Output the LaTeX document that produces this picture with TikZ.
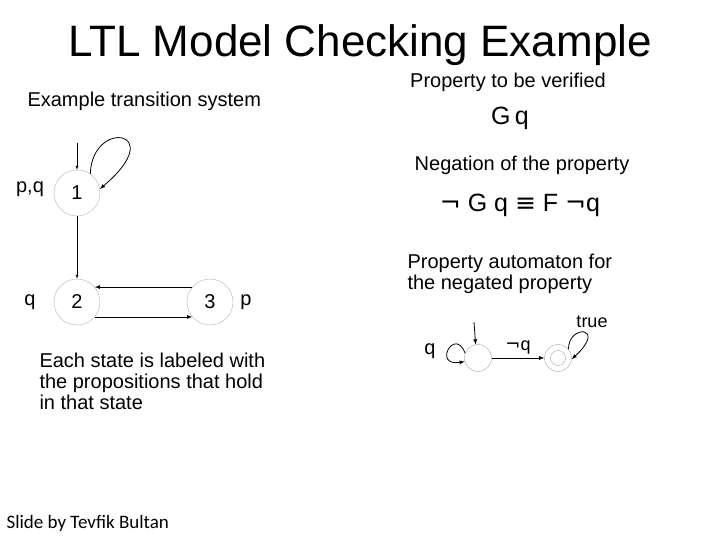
\documentclass[tikz,border=0pt]{standalone}
\usepackage{fontspec}
\setmainfont{Liberation Sans}
\newfontfamily\djv{DejaVu Sans}
\newfontfamily\crl{Carlito}
\begin{document}
\begin{tikzpicture}[x=1pt,y=-1pt,
 st/.style={circle,draw=gray!60,minimum size=46pt,inner sep=0pt,font=\fontsize{20}{23}\selectfont},
 lab/.style={font=\fontsize{20}{23}\selectfont},
 txt/.style={font=\fontsize{20}{23}\selectfont,align=left},
 ar/.style={-latex,thick},
 sst/.style={circle,draw=gray!70,minimum size=27pt,inner sep=0pt}]
\useasboundingbox (0,0) rectangle (720,540);
\node (title) at (360,45) {\fontsize{44}{48}\selectfont LTL Model Checking Example};
\node[txt,anchor=west] (ets) at (24,101) {Example transition system};
\node[txt] (ptv) at (508,82) {Property to be verified};
\node (gq) at (510,118) {\fontsize{25}{28}\selectfont G\,q};
\node[txt] (neg) at (522,165) {Negation of the property};
\node (negf) at (520,205) {\fontsize{25}{28}\selectfont {\djv ¬} G q {\djv ≡} F {\djv ¬}q};
\node[txt,anchor=west] (pa) at (404,274) {Property automaton for\\[-2pt]the negated property};
\node[txt,anchor=west] (each) at (36,381) {Each state is labeled with\\[-2pt]the propositions that hold\\[-2pt]in that state};
\node[anchor=west] (slide) at (3,523) {\crl\fontsize{19}{21}\selectfont Slide by Tevfik Bultan};
% transition system
\node[st] (s1) at (77,193) {1};
\node[st] (s2) at (77,302) {2};
\node[st] (s3) at (210,302) {3};
\node[lab] (l1) at (30,189) {p,q};
\node[lab] (l2) at (30,302) {q};
\node[lab] (l3) at (246,302) {p};
\coordinate (i1) at (77,143);
\draw[-latex] (i1) -- (s1);
\draw[-latex] (s1) -- (s2);
\draw[ar] (s1.55) .. controls (92,118) and (170,130) .. (s1.10);
\draw[ar] (s3.140) -- (s2.40 |- s3.140);
\draw[ar] (s2.-40) -- (s3.-140 |- s2.-40);
% automaton
\node[sst] (a) at (478,358) {};
\node[sst] (b) at (558,358) {};
\node[circle,draw=gray!70,minimum size=15pt,inner sep=0pt] (bi) at (b) {};
\coordinate (ia) at (474,322);
\draw[-latex,thick] (ia) -- (a.100);
\draw[ar] (a) -- node[above,font=\fontsize{18}{20}\selectfont]{{\djv ¬}q} (b);
\draw[ar] (a.160) .. controls (455,326) and (432,367) .. (a.195);
\node[lab] (lq) at (430,351) {q};
\draw[ar] (b.40) .. controls (568,324) and (608,326) .. (b.-5);
\node[font=\fontsize{18}{20}\selectfont] (lt) at (592,322) {true};
\end{tikzpicture}
\end{document}
